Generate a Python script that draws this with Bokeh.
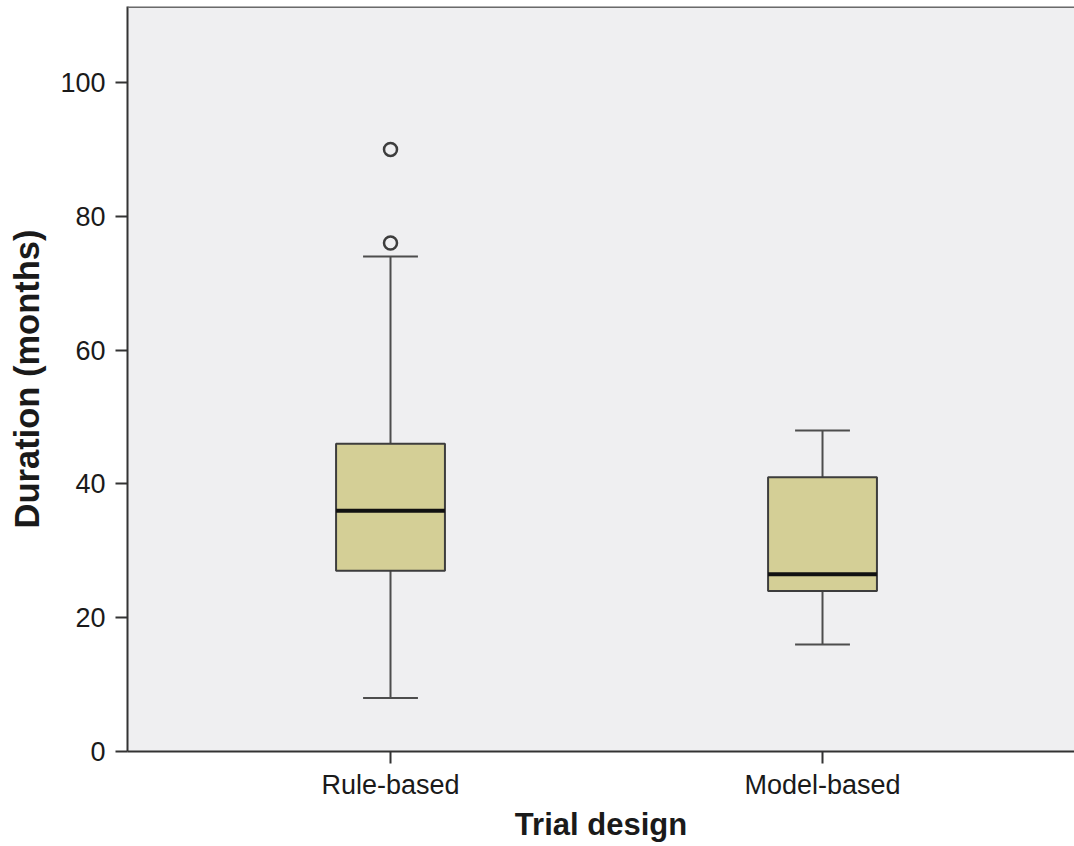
from bokeh.plotting import figure
from bokeh.models import FixedTicker, Range1d, Span, ColumnDataSource
from bokeh.embed import file_html
from bokeh.resources import INLINE

# ---- data ----
categories = ["Rule-based", "Model-based"]
q1 = [27, 24]
medians = [36, 26.5]
q3 = [46, 41]
whisker_low = [8, 16]
whisker_high = [74, 48]
outlier_category = ["Rule-based", "Rule-based"]
outlier_values = [76, 90]

# ---- style ----
BOX_W = 0.252
CAP_W = 0.127
FILL = "#d4cf96"
LINE = "#4d4d4d"
BG = "#efeff1"
FONT = "Liberation Sans"

xpos = [i + 1 for i in range(len(categories))]

p = figure(width=1074, height=846, output_backend="svg", toolbar_location=None,
           x_range=Range1d(0.3912, 2.5833), y_range=Range1d(0, 111.36),
           min_border_left=127, min_border_right=0, min_border_top=6, min_border_bottom=95)

p.background_fill_color = BG
p.border_fill_color = "white"
p.outline_line_color = None
p.xgrid.visible = False
p.ygrid.visible = False

src = ColumnDataSource(dict(
    x=xpos,
    q1=q1, med=medians, q3=q3, lo=whisker_low, hi=whisker_high,
    xl=[x - BOX_W / 2 for x in xpos], xr=[x + BOX_W / 2 for x in xpos],
    cl=[x - CAP_W / 2 for x in xpos], cr=[x + CAP_W / 2 for x in xpos],
))

# whiskers
p.segment(x0="x", y0="q3", x1="x", y1="hi", source=src, line_color=LINE, line_width=2)
p.segment(x0="x", y0="q1", x1="x", y1="lo", source=src, line_color=LINE, line_width=2)
p.segment(x0="cl", y0="hi", x1="cr", y1="hi", source=src, line_color=LINE, line_width=2)
p.segment(x0="cl", y0="lo", x1="cr", y1="lo", source=src, line_color=LINE, line_width=2)

# boxes
p.vbar(x="x", width=BOX_W, bottom="q1", top="q3", source=src,
       fill_color=FILL, line_color="#3d3d3d", line_width=2)
# medians
p.segment(x0="xl", y0="med", x1="xr", y1="med", source=src, line_color="#111111", line_width=4)

# outliers
ox = [categories.index(c) + 1 for c in outlier_category]
p.scatter(ox, outlier_values, marker="circle", size=13, fill_color=None,
          line_color="#3d3d3d", line_width=2.5)

# top frame border
p.add_layout(Span(location=111.36, dimension="width", line_color="#6a6a6a", line_width=3))

# axes
p.xaxis.ticker = FixedTicker(ticks=xpos)
p.xaxis.major_label_overrides = {x: c for x, c in zip(xpos, categories)}
p.yaxis.ticker = FixedTicker(ticks=[0, 20, 40, 60, 80, 100])
p.xaxis.axis_label = "Trial design"
p.yaxis.axis_label = "Duration (months)"

for ax in (p.xaxis[0], p.yaxis[0]):
    ax.axis_line_color = "#333333"
    ax.axis_line_width = 2
    ax.major_tick_line_color = "#333333"
    ax.major_tick_line_width = 2
    ax.major_tick_in = 0
    ax.major_tick_out = 12
    ax.minor_tick_line_color = None
    ax.major_label_text_font = FONT
    ax.major_label_text_font_size = "27px"
    ax.major_label_text_color = "#1a1a1a"
    ax.axis_label_text_font = FONT
    ax.axis_label_text_font_style = "bold"
    ax.axis_label_text_color = "#1a1a1a"

p.xaxis.axis_label_text_font_size = "31px"
p.yaxis.axis_label_text_font_size = "34.5px"
p.yaxis.major_label_standoff = 10
p.yaxis.axis_label_standoff = 11
p.xaxis.major_label_standoff = 6
p.xaxis.axis_label_standoff = 4

open("out.html", "w").write(file_html(p, INLINE))
